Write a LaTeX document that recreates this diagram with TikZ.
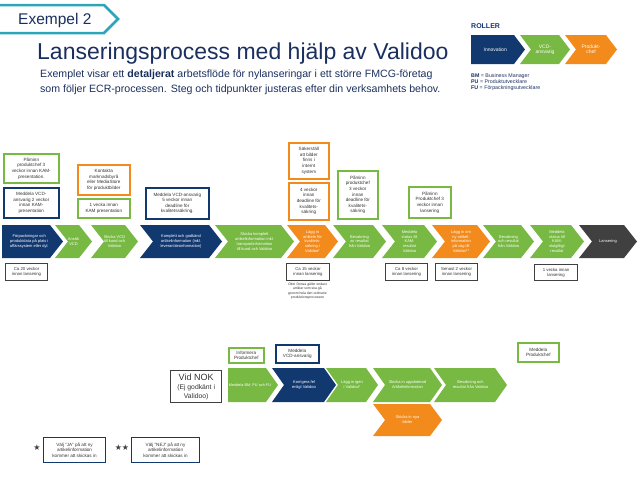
\documentclass[tikz,border=0pt]{standalone}
\usepackage{fontspec}
\setmainfont{Liberation Sans}
\newfontfamily\symfont{DejaVu Sans}
\definecolor{navy}{HTML}{123870}
\definecolor{lgreen}{HTML}{77B943}
\definecolor{orng}{HTML}{F28A1C}
\definecolor{dgray}{HTML}{404040}
\definecolor{tealc}{HTML}{2CA5B8}
\definecolor{titleblue}{HTML}{1B2F5E}
\definecolor{boxtext}{HTML}{333333}
\newcommand\cdepth{13}
% name, color, xl, xr, yt, yb, notch(0/1), text
\newcommand\chev[8]{%
  \fill[#2] (#3,#5) -- ({#4-\cdepth},#5) -- (#4,{(#5+#6)/2}) -- ({#4-\cdepth},#6) -- (#3,#6) -- ({#3+#7*\cdepth},{(#5+#6)/2}) -- cycle;
  \node[chevtext] (#1) at ({(#3+#4-(1-#7)*\cdepth*0.5)/2},{(#5+#6)/2}) {#8};}
\tikzset{
  chevtext/.style={text=white, align=center, inner sep=0pt, font=\fontsize{4}{4.9}\selectfont},
  note/.style={draw, line width=1.6pt, fill=white, align=center, inner sep=0.5pt, text=boxtext,
    font=\fontsize{4.6}{5.6}\selectfont, anchor=north west},
  gbox/.style={draw=dgray, line width=1.1pt, fill=white, align=center, inner sep=0.5pt, text=boxtext,
    font=\fontsize{4.3}{5.2}\selectfont, anchor=north west},
  legbox/.style={draw=navy, line width=1.1pt, fill=white, align=center, inner sep=0.5pt, text=boxtext,
    font=\fontsize{4.6}{5.6}\selectfont, anchor=north west},
}
\begin{document}
\begin{tikzpicture}[x=1pt,y=-1pt]
\useasboundingbox (0,0) rectangle (638,479);
% header tag
\draw[tealc, line width=2.5pt, fill=white] (-5,5) -- (104,5) -- (118,19) -- (104,33) -- (-5,33);
\node[anchor=base west, text=titleblue, font=\fontsize{15.5}{18}\selectfont, inner sep=0pt] (tag) at (18,24.5) {Exempel 2};
\node[anchor=base west, text=titleblue, font=\fontsize{23}{26}\selectfont, inner sep=0pt] (title) at (37,59) {Lanseringsprocess med hjälp av Validoo};
\node[anchor=north west, text=titleblue, font=\fontsize{10.6}{15}\selectfont, inner sep=0pt, align=left] (sub) at (40,69.5)
  {Exemplet visar ett \textbf{detaljerat} arbetsflöde för nylanseringar i ett större FMCG-företag\\
   som följer ECR-processen. Steg och tidpunkter justeras efter din verksamhets behov.};
% roles
\node[anchor=base west, text=navy, font=\bfseries\fontsize{7}{8}\selectfont, inner sep=0pt] (roller) at (471,28.5) {ROLLER};
\renewcommand\cdepth{11}
\chev{r1}{navy}{471}{525}{35}{64}{0}{\fontsize{5}{6}\selectfont Innovation}
\chev{r2}{lgreen}{520}{570}{35}{64}{1}{\fontsize{5}{6}\selectfont VCD-\\ \fontsize{5}{6}\selectfont ansvarig}
\chev{r3}{orng}{565}{617}{35}{64}{1}{\fontsize{5}{6}\selectfont Produkt-\\ \fontsize{5}{6}\selectfont chef}
\node[anchor=north west, text=titleblue, font=\fontsize{5.3}{6.1}\selectfont, inner sep=0pt, align=left] (legend) at (471,73)
  {\textbf{BM} = Business Manager\\ \textbf{PU} = Produktutvecklare\\ \textbf{FU} = Förpackningsutvecklare};
% main chain
\renewcommand\cdepth{13}
\chev{c1}{navy}{2}{63}{225}{258}{0}{Förpackningar och\\produktdata på plats i\\affärssystem eller dyl.}
\chev{c2}{lgreen}{55}{92}{225}{258}{1}{Ansök\\VCD}
\chev{c3}{lgreen}{91}{138}{225}{258}{1}{Skicka VCD\\till kund och\\Validoo}
\chev{c4}{navy}{140}{222}{225}{258}{1}{Komplett och godkänd\\artikelinformation (inkl.\\leverantörsinformation)}
\chev{c5}{lgreen}{215}{294}{225}{258}{1}{Skicka komplett\\artikelinformation inkl.\\transportinformation\\till kund och Validoo}
\chev{c6}{orng}{287}{338}{225}{258}{1}{Lägg in\\artikeln för\\kvalitets-\\säkring i\\Validoo*}
\chev{c7}{lgreen}{333}{386}{225}{258}{1}{Bevakning\\av resultat\\från Validoo}
\chev{c8}{lgreen}{382}{437}{225}{258}{1}{Meddela\\status till\\KAM:\\resultat\\Validoo}
\chev{c9}{orng}{432}{490}{225}{258}{1}{Lägg in om\\ny artikel-\\information\\på väg till\\Validoo**}
\chev{c10}{lgreen}{483}{534}{225}{258}{1}{Bevakning\\och resultat\\från Validoo}
\chev{c11}{lgreen}{530}{584}{225}{258}{1}{Meddela\\status till\\KAM:\\slutgiltigt\\resultat}
\chev{c12}{dgray}{579}{637}{225}{258}{1}{Lansering}
% notes above
\node[note, draw=lgreen, minimum width=55, minimum height=29] (a1) at (3,153) {Påminn\\produktchef 3\\veckor innan KAM-\\presentation.};
\node[note, draw=navy, minimum width=55, minimum height=30] (a2) at (3,187) {Meddela VCD-\\ansvarig 2 veckor\\innan KAM-\\presentation};
\node[note, draw=orng, minimum width=52, minimum height=30] (a3) at (77,164) {Kontakta\\marknadsbyrå\\eller MediaStore\\för produktbilder};
\node[note, draw=lgreen, minimum width=52, minimum height=19] (a4) at (77,198) {1 vecka innan\\KAM presentation};
\node[note, draw=navy, minimum width=63, minimum height=31] (a5) at (145,187) {Meddela VCD-ansvarig\\5 veckor innan\\deadline för\\kvalitetssäkring.};
\node[note, draw=orng, minimum width=40, minimum height=36] (a6) at (288,142) {Säkerställ\\att bilder\\finns i\\internt\\system};
\node[note, draw=orng, minimum width=40, minimum height=37] (a7) at (288,182) {4 veckor\\innan\\deadline för\\kvalitets-\\säkring};
\node[note, draw=lgreen, minimum width=40, minimum height=48] (a8) at (337,170) {Påminn\\produktchef\\3 veckor\\innan\\deadline för\\kvalitets-\\säkring};
\node[note, draw=lgreen, minimum width=42, minimum height=31] (a9) at (408,186) {Påminn\\Produktchef 3\\veckor innan\\lansering};
% time boxes
\node[gbox, minimum width=42, minimum height=17] (g1) at (5,263) {Ca 20 veckor\\innan lansering};
\node[gbox, minimum width=43, minimum height=17] (g2) at (286,263) {Ca 15 veckor\\innan lansering};
\node[anchor=north, text=boxtext, font=\fontsize{3.4}{4.3}\selectfont, inner sep=0pt, align=center] (obs) at (307.5,283)
  {Obs! Dessa gäller endast\\artiklar som ska gå\\genom hela den ordinarie\\produktionsprocessen};
\node[gbox, minimum width=42, minimum height=17] (g3) at (385,263) {Ca 8 veckor\\innan lansering};
\node[gbox, minimum width=42, minimum height=17] (g4) at (435,263) {Senast 2 veckor\\innan lansering};
\node[gbox, minimum width=43, minimum height=16] (g5) at (534,264) {1 vecka innan\\lansering};
% NOK flow
\node[gbox, line width=1.3pt, minimum width=51, minimum height=32, font=\fontsize{9}{10}\selectfont] (nok) at (170,370)
  {Vid NOK\\[-1pt]{\fontsize{6.8}{8}\selectfont (Ej godkänt i}\\[-1pt]{\fontsize{6.8}{8}\selectfont Validoo)}};
\node[note, draw=lgreen, minimum width=35, minimum height=15] (b1) at (228,347) {Informera\\Produktchef};
\node[note, draw=navy, minimum width=43, minimum height=18] (b2) at (275,344) {Meddela\\VCD-ansvarig};
\node[note, draw=lgreen, minimum width=41, minimum height=19] (b3) at (517,342) {Meddela\\Produktchef};
\renewcommand\cdepth{12}
\chev{l1}{lgreen}{228}{278}{368}{402}{0}{\fontsize{3.8}{4.6}\selectfont Meddela BM, PU och FU}
\chev{l2}{navy}{272}{336}{368}{402}{1}{Korrigera fel\\enligt Validoo}
\chev{l3}{lgreen}{326}{378}{368}{402}{1}{Lägg in igen\\i Validoo*}
\chev{l4}{lgreen}{373}{442}{368}{402}{1}{Skicka in uppdaterad\\Artikelinformation}
\chev{l5}{lgreen}{434}{507}{368}{402}{1}{Bevakning och\\resultat från Validoo}
\chev{l6}{orng}{373}{442}{404}{436}{1}{Skicka in nya\\bilder}
% legend stars
\node[text=dgray, font=\symfont\fontsize{8}{9}\selectfont, inner sep=0pt] (s1) at (37,448) {★};
\node[legbox, minimum width=62, minimum height=25] (k1) at (43,437) {Välj ”JA” på att ny\\artikelinformation\\kommer att skickas in};
\node[text=dgray, font=\symfont\fontsize{8}{9}\selectfont, inner sep=0pt] (s2) at (122,448) {★★};
\node[legbox, minimum width=68, minimum height=25] (k2) at (131,437) {Välj ”NEJ” på att ny\\artikelinformation\\kommer att skickas in};
\end{tikzpicture}
\end{document}
